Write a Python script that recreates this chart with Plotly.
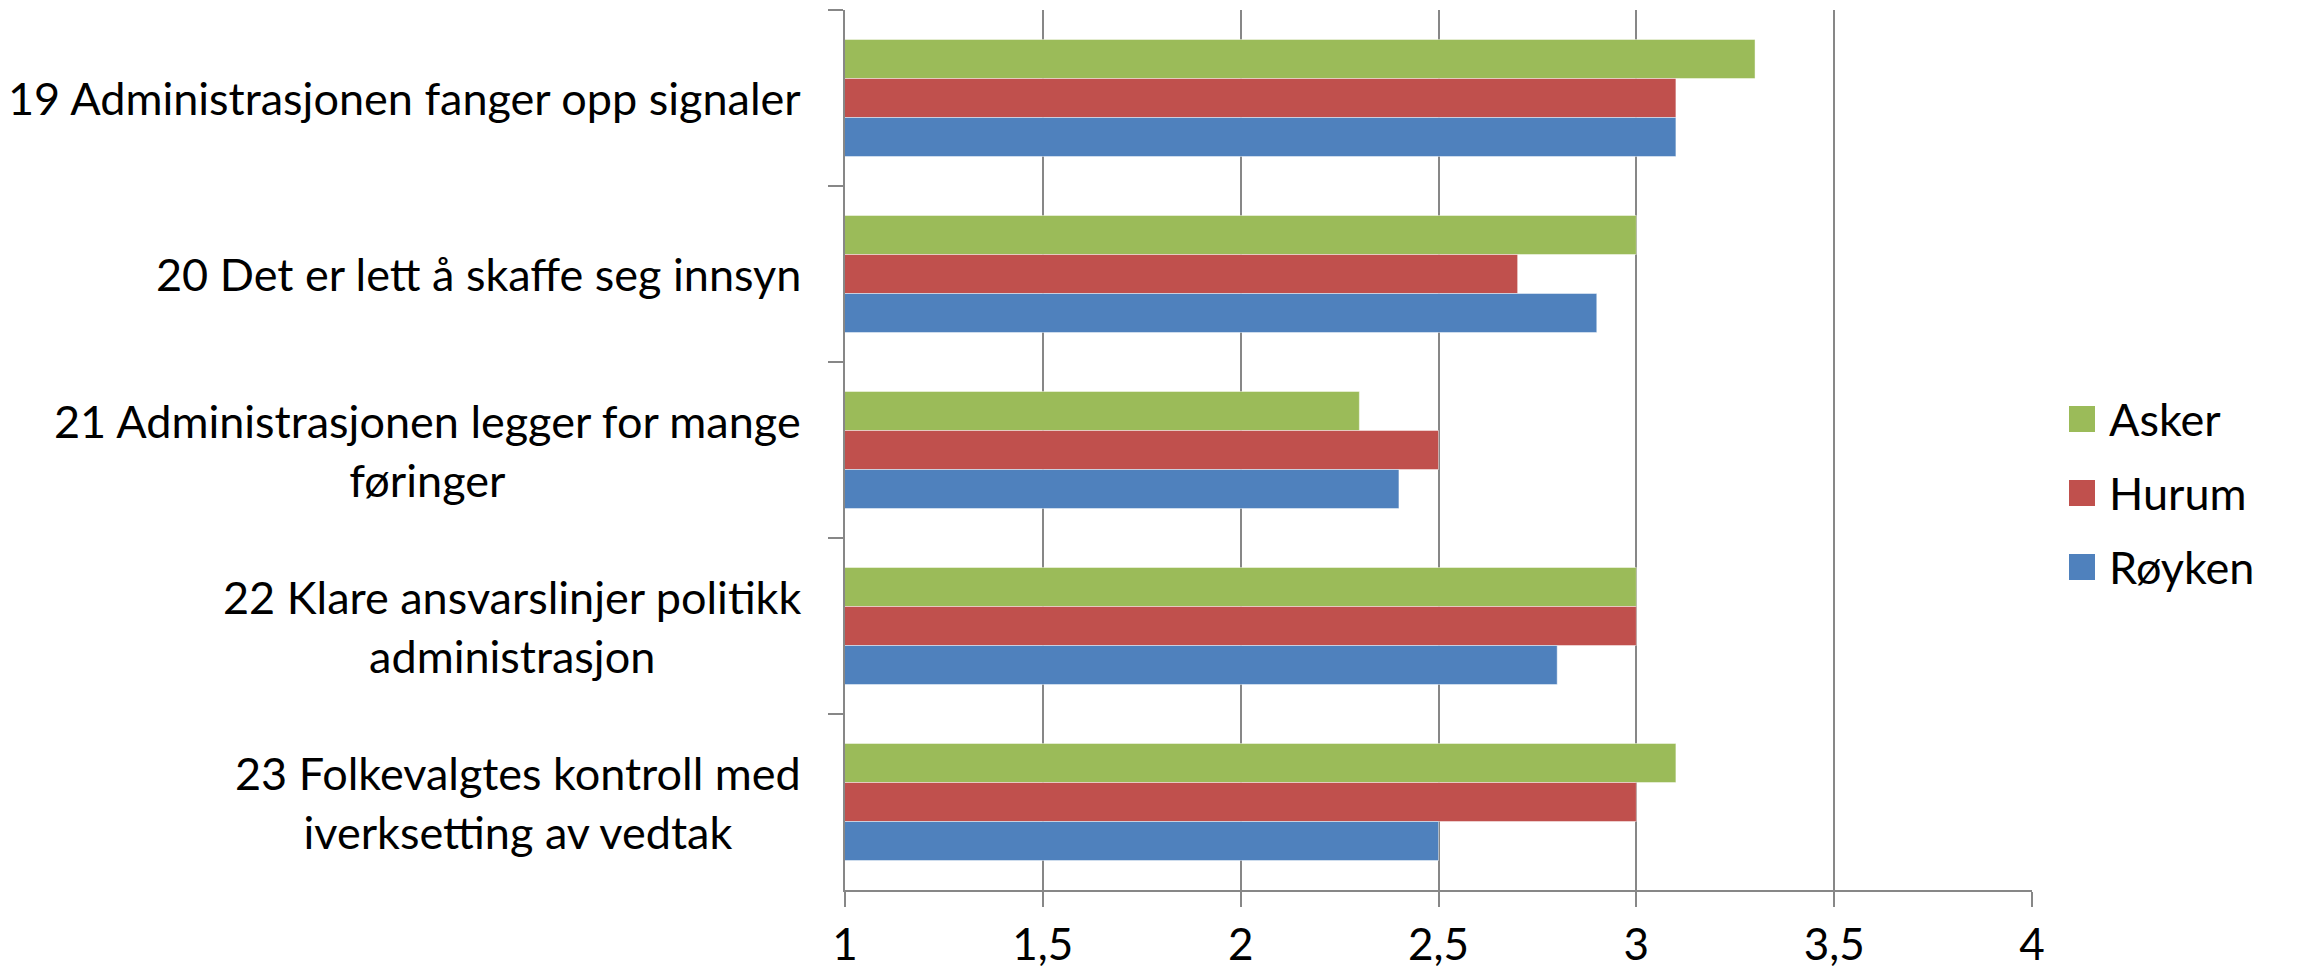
import plotly.graph_objects as go

categories = [
    "19 Administrasjonen fanger opp signaler",
    "20 Det er lett å skaffe seg innsyn",
    "21 Administrasjonen legger for mange<br>føringer",
    "22 Klare ansvarslinjer politikk<br>administrasjon",
    "23 Folkevalgtes kontroll med<br>iverksetting av vedtak",
]
series_names = ["Asker", "Hurum", "Røyken"]
asker = [3.3, 3.0, 2.3, 3.0, 3.1]
hurum = [3.1, 2.7, 2.5, 3.0, 3.0]
royken = [3.1, 2.9, 2.4, 2.8, 2.5]
colors = ["#9BBB59", "#C0504D", "#4F81BD"]
x_ticks = [1, 1.5, 2, 2.5, 3, 3.5, 4]

FONT = "Lato"
OFF = 8  # default page body margin
W, H = 2297 - OFF, 975 - OFF
ML, MT = 845 - OFF, 10 - OFF
PW, PH = 1187, 880
MR, MB = W - ML - PW, H - MT - PH

fig = go.Figure()
for name, vals, col in zip(series_names, [asker, hurum, royken], colors):
    fig.add_trace(go.Bar(
        y=categories, x=vals, name=name, orientation="h",
        base=0,
        marker=dict(color=col, line=dict(color="rgba(255,255,255,0.45)", width=1)),
        showlegend=False,
    ))

# category labels (centered multi-line, right-aligned block)
for c in categories:
    fig.add_annotation(
        x=0, xref="paper", y=c, yref="y", text=c, showarrow=False,
        xanchor="right", yanchor="middle", align="center", xshift=-42,
        font=dict(family=FONT, size=45, color="black"),
    )

# manual legend (positions in page pixels of the reference)
sq = 26
spacing = 74
y0c = 419
for i, (name, col) in enumerate(zip(series_names, colors)):
    cy = y0c + i * spacing
    py = (PH + 10 - cy) / PH
    fig.add_shape(
        type="rect", xref="paper", yref="paper",
        x0=(2069 - 845) / PW, x1=(2069 + sq - 845) / PW,
        y0=py - sq / 2 / PH, y1=py + sq / 2 / PH,
        fillcolor=col, line=dict(width=0),
    )
    fig.add_annotation(
        x=(2107 - 845) / PW, xref="paper", y=py, yref="paper", text=name,
        showarrow=False, xanchor="left", yanchor="middle",
        font=dict(family=FONT, size=45, color="black"),
    )

fig.update_layout(
    width=W, height=H,
    margin=dict(l=ML, r=MR, t=MT, b=MB, pad=0),
    paper_bgcolor="white", plot_bgcolor="white",
    barmode="group", bargap=0.335, bargroupgap=0,
    separators=", ",
    font=dict(family=FONT, size=44, color="black"),
    xaxis=dict(
        range=[1, 4], tickvals=x_ticks,
        showgrid=True, gridcolor="#878787", gridwidth=2,
        showline=True, linecolor="#878787", linewidth=2,
        ticks="outside", ticklen=15, tickcolor="#878787", tickwidth=2,
        tickfont=dict(family=FONT, size=44, color="black"),
        zeroline=False, fixedrange=True,
    ),
    yaxis=dict(
        autorange="reversed", type="category",
        showticklabels=False, showgrid=False,
        showline=True, linecolor="#878787", linewidth=2,
        ticks="outside", ticklen=15, tickcolor="#878787", tickwidth=2,
        tickson="boundaries",
        zeroline=False,
    ),
)

fig.write_html("out.html")
